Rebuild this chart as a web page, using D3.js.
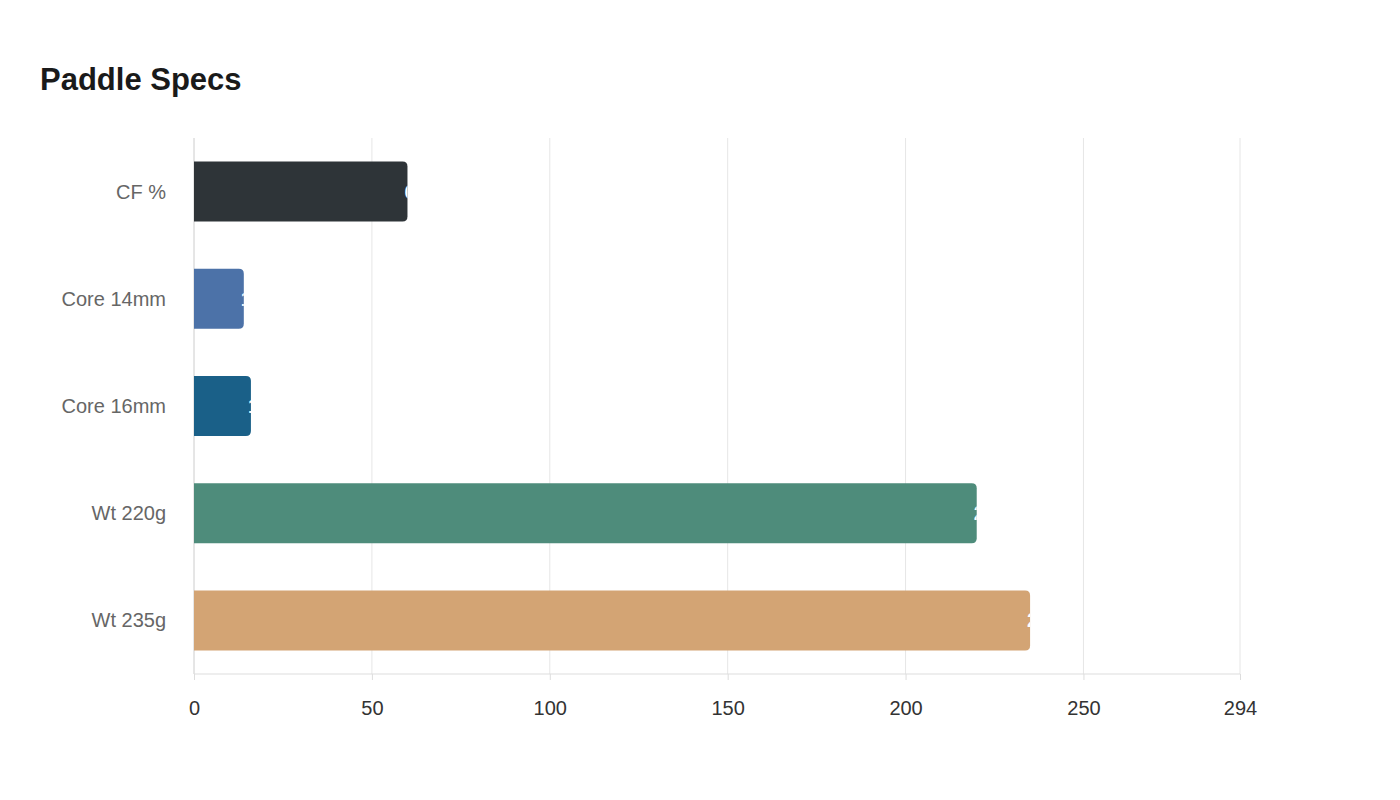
<!DOCTYPE html><html><head><meta charset="utf-8"><script src="https://cdn.jsdelivr.net/npm/d3@7"></script>
<style>body{margin:0;background:#fff;font-family:"Liberation Sans",Arial,sans-serif}</style></head><body><svg id="c" width="1400" height="800"></svg>
<script>
const categories=["CF %","Core 14mm","Core 16mm","Wt 220g","Wt 235g"];
const values=[60,14,16,220,235];
const colors=["#2e3438","#4c72a8","#1a6088","#4e8c7b","#d3a474"];
const tickValues=[0,50,100,150,200,250,294];
const svg=d3.select("#c");
svg.append("text").attr("x",40).attr("y",90).attr("font-size",31).attr("font-weight","bold").attr("fill","#1a1a1a").text("Paddle Specs");
const x=d3.scaleLinear().domain([0,294]).range([194,1240]);
const y=d3.scaleBand().domain(categories).range([138,674]).paddingInner(0.44).paddingOuter(0.22);
svg.append("g").selectAll("line").data(tickValues.slice(1)).join("line").attr("x1",d=>x(d)).attr("x2",d=>x(d)).attr("y1",138).attr("y2",674).attr("stroke","#e6e6e6");
svg.append("line").attr("x1",194).attr("x2",194).attr("y1",138).attr("y2",674).attr("stroke","#ccc");
svg.append("line").attr("x1",194).attr("x2",1240).attr("y1",674).attr("y2",674).attr("stroke","#ddd");
const ax=svg.append("g").attr("transform","translate(0,674)").call(d3.axisBottom(x).tickValues(tickValues).tickSize(6).tickFormat(d3.format("d")));
ax.select(".domain").remove();ax.selectAll("line").attr("stroke","#ddd");
ax.selectAll("text").attr("font-size",20).attr("fill","#333").attr("dy","1.6em").attr("font-family","Liberation Sans, Arial");
svg.append("g").selectAll("text").data(categories).join("text").attr("x",166).attr("y",d=>y(d)+y.bandwidth()/2).attr("dy","0.35em").attr("text-anchor","end").attr("font-size",20).attr("fill","#666").text(d=>d);
const defs=svg.append("defs");
const r=5;
categories.forEach((c,i)=>{
 const x0=x(0),x1=x(values[i]),y0=y(c),h=y.bandwidth();
 const p=`M${x0},${y0}H${x1-r}Q${x1},${y0} ${x1},${y0+r}V${y0+h-r}Q${x1},${y0+h} ${x1-r},${y0+h}H${x0}Z`;
 defs.append("clipPath").attr("id","cl"+i).append("path").attr("d",p);
 svg.append("path").attr("d",p).attr("fill",colors[i]);
 svg.append("text").attr("clip-path",`url(#cl${i})`).attr("x",x1-3).attr("y",y0+h/2).attr("dy","0.35em").attr("font-size",20).attr("font-weight","bold").attr("fill","#fff").text(values[i]);
});
</script></body></html>
